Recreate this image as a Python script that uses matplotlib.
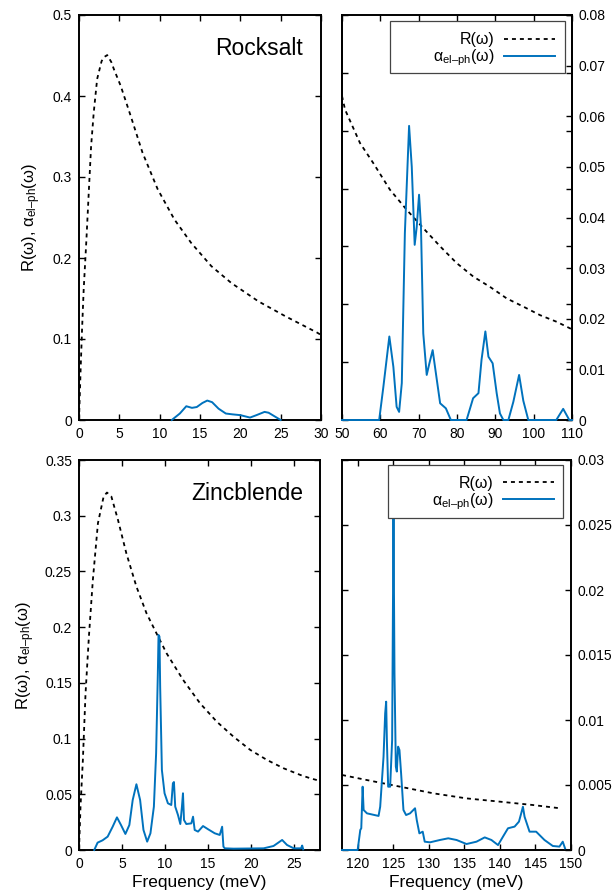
import numpy as np
import matplotlib
matplotlib.use("Agg")
import matplotlib.pyplot as plt
from matplotlib.patches import Rectangle

plt.rcParams['font.family'] = ['Liberation Sans', 'DejaVu Sans']
plt.rcParams['mathtext.fontset'] = 'custom'
plt.rcParams['mathtext.rm'] = 'Liberation Sans'
plt.rcParams['mathtext.it'] = 'Liberation Sans:italic'

BLUE = '#0072bd'

# ---- Rocksalt, low-frequency window ----
rs_lo_R_x = [0, 0.2, 0.375, 0.58, 0.92, 1.21, 1.5, 1.83, 2.25, 2.8, 3.1, 3.5, 4.0, 4.33,
             5.17, 6.42, 7.875, 9.75, 11.83, 13.9, 16.4, 18.9, 22.25, 25.6, 29.5, 30]
rs_lo_R_y = [0, 0.062, 0.111, 0.161, 0.223, 0.281, 0.338, 0.380, 0.421, 0.443, 0.448,
             0.4505, 0.442, 0.433, 0.4125, 0.375, 0.330, 0.285, 0.2475, 0.2187, 0.190,
             0.169, 0.1464, 0.128, 0.108, 0.105]
rs_lo_a_x = [11.5, 12.5, 13.3, 14.0, 14.6, 15.3, 15.9, 16.5, 17.3, 18.2, 19.0, 20.0,
             21.2, 22.0, 23.0, 23.5, 24.5, 25.0]
rs_lo_a_y = [0, 0.008, 0.017, 0.015, 0.016, 0.021, 0.024, 0.022, 0.014, 0.008, 0.007,
             0.006, 0.003, 0.006, 0.010, 0.009, 0.003, 0.0]

# ---- Rocksalt, high-frequency window ----
rs_hi_R_x = [50, 50.8, 54.7, 58.2, 62.5, 66.9, 71.2, 75.6, 79.9, 84.3, 88.6, 93.0,
             97.3, 101.7, 106.0, 109.5, 110]
rs_hi_R_y = [0.0640, 0.0613, 0.0547, 0.0507, 0.0455, 0.0415, 0.0379, 0.0343, 0.0310,
             0.0283, 0.0263, 0.0240, 0.0224, 0.0207, 0.0194, 0.0181, 0.0179]
rs_hi_a_x = [50, 59.7, 60.8, 62.35, 63.4, 64.25, 64.9, 65.6, 66.4, 67.5, 68.2, 68.96,
             69.5, 70.1, 70.6, 71.2, 72.1, 72.8, 73.65, 74.5, 75.6, 77.1, 78.4, 82.5,
             84.2, 85.6, 86.4, 87.4, 88.2, 89.3, 90.35, 91.2, 92.1, 93.4, 94.7, 96.2,
             97.3, 98.6, 105.9, 107.7, 109.3, 110]
rs_hi_a_y = [0, 0, 0.0066, 0.0165, 0.0105, 0.0026, 0.0016, 0.0073, 0.0369, 0.0581,
             0.0500, 0.0346, 0.0382, 0.0445, 0.0382, 0.0171, 0.0089, 0.0112, 0.0138,
             0.0092, 0.0033, 0.0023, 0, 0, 0.0043, 0.0053, 0.0119, 0.0175, 0.0125,
             0.0112, 0.0053, 0.0013, 0, 0, 0.0036, 0.0089, 0.0038, 0, 0, 0.0022, 0, 0]

# ---- Zincblende, low-frequency window ----
zb_lo_R_x = [0, 0.175, 0.45, 0.76, 1.15, 1.61, 2.2, 2.86, 3.25, 3.76, 4.53, 5.5, 6.67,
             7.84, 9.0, 10.17, 12.1, 14.06, 16.0, 17.95, 19.9, 21.84, 23.78, 25.73,
             26.9, 28]
zb_lo_R_y = [0, 0.0389, 0.0808, 0.1406, 0.1915, 0.2424, 0.2933, 0.3172, 0.3208,
             0.3172, 0.2962, 0.2663, 0.2364, 0.2125, 0.1945, 0.1766, 0.1526, 0.1317,
             0.1152, 0.1017, 0.0898, 0.0808, 0.0733, 0.0673, 0.0643, 0.0620]
zb_lo_a_x = [1.77, 2.16, 2.74, 3.33, 3.91, 4.41, 4.88, 5.39, 5.85, 6.24, 6.67, 7.1,
             7.49, 7.92, 8.3, 8.7, 8.96, 9.16, 9.24, 9.35, 9.43, 9.63, 9.94, 10.33,
             10.72, 10.91, 11.03, 11.18, 11.5, 11.77, 11.96, 12.08, 12.2, 12.47, 13.05,
             13.25, 13.44, 13.83, 14.41, 15.0, 15.77, 16.35, 16.63, 16.78, 16.94, 17.95,
             21.45, 22.6, 23.6, 24.17, 24.95, 25.8, 25.93, 26.05]
zb_lo_a_y = [0, 0.0066, 0.0087, 0.012, 0.0209, 0.0293, 0.0224, 0.0144, 0.0224, 0.0449,
             0.059, 0.0449, 0.018, 0.0075, 0.015, 0.0389, 0.0868, 0.1586, 0.193, 0.1915,
             0.1466, 0.0718, 0.0509, 0.0419, 0.0404, 0.0599, 0.061, 0.0389, 0.0314,
             0.0233, 0.0389, 0.0509, 0.0269, 0.0233, 0.0239, 0.0299, 0.018, 0.0165,
             0.0215, 0.0186, 0.015, 0.0135, 0.0209, 0.003, 0.0015, 0.0012, 0.0015,
             0.0036, 0.009, 0.0045, 0.0015, 0.0015, 0.004, 0.0006]

# ---- Zincblende, high-frequency window ----
zb_hi_R_x = [117.81, 121.31, 125.97, 130.64, 135.31, 139.97, 144.64, 148.6]
zb_hi_R_y = [0.00577, 0.00538, 0.00487, 0.00436, 0.00397, 0.00372, 0.00346, 0.0032]
zb_hi_a_x = [117.8, 120.0, 120.37, 120.51, 120.70, 120.84, 121.31, 122.94, 123.17,
             123.64, 123.87, 124.01, 124.11, 124.29, 124.57, 124.85, 125.04, 125.18,
             125.37, 125.51, 125.69, 125.88, 126.11, 126.44, 126.81, 127.37, 128.07,
             128.31, 128.68, 129.15, 129.43, 130.17, 131.57, 132.74, 133.91, 135.31,
             136.71, 137.87, 138.81, 139.74, 140.44, 141.14, 142.07, 142.68, 143.0,
             143.24, 143.47, 144.17, 145.1, 146.27, 147.44, 148.37, 148.84, 149.16]
zb_hi_a_y = [0, 0, 0.00154, 0.00167, 0.00487, 0.00308, 0.00282, 0.00262, 0.00333,
             0.00718, 0.01051, 0.01141, 0.00846, 0.00487, 0.00487, 0.00846, 0.02564,
             0.01359, 0.00641, 0.00603, 0.00795, 0.00769, 0.0059, 0.00308, 0.00269,
             0.00282, 0.00321, 0.00231, 0.00128, 0.00141, 0.00064, 0.00059, 0.00077,
             0.0009, 0.00077, 0.00046, 0.00064, 0.00097, 0.00077, 0.00038, 0.00103,
             0.00167, 0.0018, 0.00218, 0.00282, 0.00333, 0.00256, 0.00141, 0.00141,
             0.00077, 0.00031, 0.00026, 0.00064, 0.00013]

lab_R = 'R(ω)'
lab_a = 'α$_{\\mathregular{el\u2013ph}}$(ω)'
ylab = 'R(ω), α$_{\\mathregular{el\u2013ph}}$(ω)'

TICKSIZE = 10


def style(ax):
    for s in ax.spines.values():
        s.set_linewidth(1.4)
    ax.tick_params(direction='in', length=4, width=1.0, labelsize=TICKSIZE,
                   top=True, right=True, pad=5)


def draw(ax, Rx, Ry, ax_, ay_):
    ax.plot(Rx, Ry, color='black', lw=1.3, ls=(0, (2.2, 2.2)), label=lab_R, zorder=3)
    ax.plot(ax_, ay_, color=BLUE, lw=1.4, label=lab_a, zorder=4, clip_on=False)


def legend(ax, box, anchor):
    # key frame as gnuplot draws it: wide box, entries pushed to the right
    ax.add_patch(Rectangle((box[0], box[1]), box[2] - box[0], box[3] - box[1],
                           transform=ax.transAxes, facecolor='white',
                           edgecolor='#444444', lw=0.9, zorder=9))
    lg = ax.legend(loc='upper right', bbox_to_anchor=anchor, markerfirst=False,
                   fontsize=11.5, handlelength=3.2, frameon=False,
                   borderaxespad=0, labelspacing=0.0, borderpad=0,
                   handletextpad=0.6)
    lg.set_zorder(10)


fig = plt.figure(figsize=(6.15, 8.92), dpi=100)

# top-left
ax1 = fig.add_axes([79/615, 1-420/892, 242/615, 405/892])
draw(ax1, rs_lo_R_x, rs_lo_R_y, rs_lo_a_x, rs_lo_a_y)
ax1.set_xlim(0, 30)
ax1.set_ylim(0, 0.5)
ax1.set_xticks(np.arange(0, 31, 5))
ax1.set_yticks([0, 0.1, 0.2, 0.3, 0.4, 0.5])
ax1.set_yticklabels(['0', '0.1', '0.2', '0.3', '0.4', '0.5'])
ax1.set_ylabel(ylab, fontsize=12, labelpad=7)
ax1.text(0.926, 0.918, 'Rocksalt', transform=ax1.transAxes, ha='right', va='center',
         fontsize=16.5)
style(ax1)

# top-right
ax2 = fig.add_axes([342/615, 1-420/892, 230/615, 405/892])
draw(ax2, rs_hi_R_x, rs_hi_R_y, rs_hi_a_x, rs_hi_a_y)
ax2.set_xlim(50, 110)
ax2.set_ylim(0, 0.08)
ax2.set_xticks(np.arange(50, 111, 10))
ax2.set_yticks(np.arange(0, 0.081, 0.01))
ax2.set_yticklabels(['0', '0.01', '0.02', '0.03', '0.04', '0.05', '0.06', '0.07', '0.08'])
style(ax2)
ax2.tick_params(axis='y', left=False, right=True, labelleft=False, labelright=True)
# y-axis ticks (0..0.07 scale) on both spines, no labels
for side in ('left', 'right'):
    sec = ax2.secondary_yaxis(side, functions=(lambda y: y * 7 / 8, lambda y: y * 8 / 7))
    sec.set_yticks(np.arange(0, 0.071, 0.01))
    sec.tick_params(direction='in', length=4, width=1.0, labelleft=False,
                    labelright=False)
    sec.spines[side].set_linewidth(1.4)
legend(ax2, (0.209, 0.857, 0.970, 0.985), (0.928, 0.957))

# bottom-left
ax3 = fig.add_axes([79/615, 1-850/892, 241/615, 390/892])
draw(ax3, zb_lo_R_x, zb_lo_R_y, zb_lo_a_x, zb_lo_a_y)
ax3.set_xlim(0, 28)
ax3.set_ylim(0, 0.35)
ax3.set_xticks(np.arange(0, 26, 5))
ax3.set_yticks(np.arange(0, 0.351, 0.05))
ax3.set_yticklabels(['0', '0.05', '0.1', '0.15', '0.2', '0.25', '0.3', '0.35'])
ax3.set_ylabel(ylab, fontsize=12, labelpad=6)
ax3.set_xlabel('Frequency (meV)', fontsize=12.5, labelpad=3)
ax3.text(0.929, 0.915, 'Zincblende', transform=ax3.transAxes, ha='right', va='center',
         fontsize=16.5)
style(ax3)

# bottom-right
ax4 = fig.add_axes([342/615, 1-850/892, 229/615, 390/892])
draw(ax4, zb_hi_R_x, zb_hi_R_y, zb_hi_a_x, zb_hi_a_y)
ax4.set_xlim(117.8, 150)
ax4.set_ylim(0, 0.03)
ax4.set_xticks(np.arange(120, 151, 5))
ax4.set_yticks(np.arange(0, 0.0301, 0.005))
ax4.set_yticklabels(['0', '0.005', '0.01', '0.015', '0.02', '0.025', '0.03'])
ax4.set_xlabel('Frequency (meV)', fontsize=12.5, labelpad=3)
style(ax4)
ax4.tick_params(axis='y', labelleft=False, labelright=True)
legend(ax4, (0.201, 0.851, 0.965, 0.987), (0.925, 0.959))

fig.savefig('out.png', dpi=100)
